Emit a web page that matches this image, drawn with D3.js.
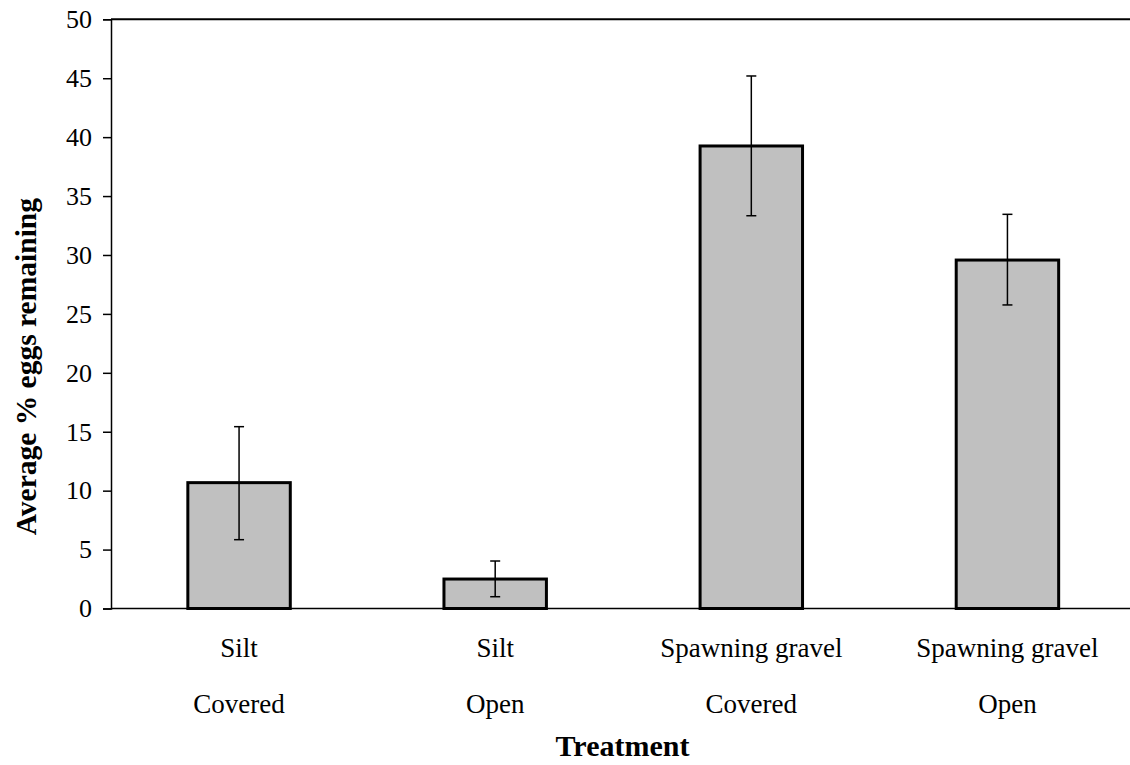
<!DOCTYPE html>
<html><head><meta charset="utf-8">
<script src="https://cdn.jsdelivr.net/npm/d3@7"></script>
<style>body{margin:0;background:#fff}svg{display:block}text{font-family:"Liberation Serif","Times New Roman",serif;fill:#000}</style>
</head><body><div id="chart"></div>
<script>
const substrates = ["Silt", "Silt", "Spawning gravel", "Spawning gravel"];
const conditions = ["Covered", "Open", "Covered", "Open"];
const means = [10.68, 2.5, 39.25, 29.57];
const errUpper = [15.43, 4.03, 45.19, 33.45];
const errLower = [5.84, 1.0, 33.33, 25.76];
const yTicks = [0, 5, 10, 15, 20, 25, 30, 35, 40, 45, 50];

const W = 1130, H = 765;
const svg = d3.select("#chart").append("svg").attr("width", W).attr("height", H);
const mLeft = 111, mRight = 1135.5, mTop = 19.3, mBottom = 608.5;
const idx = d3.range(means.length);
const x = d3.scaleBand().domain(idx).range([mLeft, mRight]).paddingInner(0.6).paddingOuter(0.3);
const y = d3.scaleLinear().domain([0, 50]).range([mBottom, mTop]);

// top frame line
svg.append("line").attr("x1", mLeft).attr("x2", W).attr("y1", y(50)).attr("y2", y(50))
  .attr("stroke", "#000").attr("stroke-width", 2);

// y axis
const yAxis = svg.append("g").attr("transform", `translate(${mLeft},0)`)
  .call(d3.axisLeft(y).tickValues(yTicks).tickSize(8).tickPadding(11).tickFormat(d3.format("d")));
yAxis.select(".domain").attr("stroke", "#000").attr("stroke-width", 1.5);
yAxis.selectAll(".tick line").attr("stroke", "#000").attr("stroke-width", 1.5);
yAxis.selectAll(".tick text").style("font-family", '"Liberation Serif",serif').style("font-size", "26px").attr("fill", "#000");

// bars
svg.append("g").selectAll("rect").data(idx).join("rect")
  .attr("x", i => x(i)).attr("width", x.bandwidth())
  .attr("y", i => y(means[i])).attr("height", i => y(0) - y(means[i]))
  .attr("fill", "#c0c0c0").attr("stroke", "#000").attr("stroke-width", 3);

// x axis line
svg.append("line").attr("x1", mLeft).attr("x2", W).attr("y1", y(0)).attr("y2", y(0))
  .attr("stroke", "#000").attr("stroke-width", 1.5);

// error bars
const eb = svg.append("g").attr("stroke", "#000").attr("stroke-width", 1.5);
idx.forEach(i => {
  const cx = x(i) + x.bandwidth() / 2;
  eb.append("line").attr("x1", cx).attr("x2", cx).attr("y1", y(errUpper[i])).attr("y2", y(errLower[i]));
  eb.append("line").attr("x1", cx - 5).attr("x2", cx + 5).attr("y1", y(errUpper[i])).attr("y2", y(errUpper[i]));
  eb.append("line").attr("x1", cx - 5).attr("x2", cx + 5).attr("y1", y(errLower[i])).attr("y2", y(errLower[i]));
});

// category labels
const lab = svg.append("g").attr("text-anchor", "middle").style("font-size", "27px");
idx.forEach(i => {
  const cx = x(i) + x.bandwidth() / 2;
  lab.append("text").attr("x", cx).attr("y", 657).text(substrates[i]);
  lab.append("text").attr("x", cx).attr("y", 713).text(conditions[i]);
});

// axis titles
svg.append("text").attr("x", 622.5).attr("y", 756).attr("text-anchor", "middle")
  .style("font-size", "30px").style("font-weight", "bold").text("Treatment");
svg.append("text").attr("transform", "translate(36,198) rotate(-90)").attr("text-anchor", "end")
  .style("font-size", "29.5px").style("font-weight", "bold").text("Average % eggs remaining");
</script></body></html>
